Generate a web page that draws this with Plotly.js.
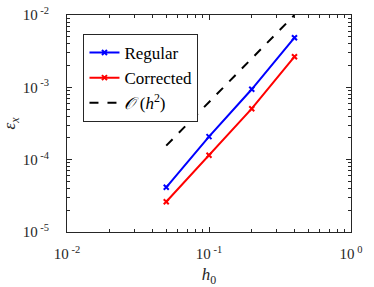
<!DOCTYPE html>
<html><head><meta charset="utf-8">
<script src="https://cdn.plot.ly/plotly-3.0.1.min.js"></script>
<style>html,body{margin:0;padding:0;background:#fff;font-family:'Liberation Serif',serif;}#plot{width:374px;height:287px;}
#plot text{font-family:'Liberation Serif',serif !important;}</style>
</head><body><div id="plot"></div>
<script>
const h0 = [0.05, 0.1, 0.2, 0.4];
const regular = [4.15e-5, 2.08e-4, 9.4e-4, 4.86e-3];
const corrected = [2.62e-5, 1.15e-4, 5.07e-4, 2.65e-3];
const refOrder = [1.5625e-4, 6.25e-4, 2.5e-3, 1.0e-2];
const xTickVals = [0.01, 0.1, 1];
const xTickText = ["10<sup> -2</sup>", "10<sup> -1</sup>", "10<sup> 0</sup>"];
const yTickVals = [1e-5, 1e-4, 1e-3, 1e-2];
const yTickText = ["10<sup> -5</sup>", "10<sup> -4</sup>", "10<sup> -3</sup>", "10<sup> -2</sup>"];

const SERIF = "Liberation Serif";
const traces = [
  {x: h0, y: regular, name: "Regular", mode: "lines+markers", type: "scatter",
   line: {color: "#0000ff", width: 2}, marker: {symbol: "x-thin", size: 5, line: {color: "#0000ff", width: 2}}},
  {x: h0, y: corrected, name: "Corrected", mode: "lines+markers", type: "scatter",
   line: {color: "#ff0000", width: 2}, marker: {symbol: "x-thin", size: 5, line: {color: "#ff0000", width: 2}}},
  {x: h0, y: refOrder, name: "<i>𝒪</i> (<i>h</i><sup>2</sup>)", mode: "lines", type: "scatter",
   line: {color: "#000000", width: 2, dash: "dash"}}
];
const axisCommon = {
  type: "log", showgrid: false, zeroline: false, showline: true, linecolor: "#262626", linewidth: 1,
  mirror: "ticks", ticks: "inside", ticklen: 5, tickcolor: "#262626", tickwidth: 1,
  tickmode: "array",
  minor: {ticks: "inside", ticklen: 3, tickcolor: "#262626", dtick: "D1", showgrid: false}
};
const pw = 374 - 66.5 - 23, ph = 287 - 15 - 55;
const layout = {
  width: 374, height: 287,
  margin: {l: 66.5, r: 23, t: 15, b: 55},
  paper_bgcolor: "#fff", plot_bgcolor: "#fff",
  font: {family: SERIF, size: 15, color: "#262626"},
  showlegend: true,
  legend: {x: (83 - 66.5) / pw, y: 1 - (34 - 15) / ph, xanchor: "left", yanchor: "top",
           bgcolor: "#fff", bordercolor: "#262626", borderwidth: 1,
           font: {family: SERIF, size: 17, color: "#000"}, tracegroupgap: 0},
  xaxis: Object.assign({}, axisCommon, {range: [-2, 0], tickvals: xTickVals, ticktext: xTickText,
           tickfont: {family: SERIF, size: 15, color: "#262626"},
           ticklabelstandoff: 8,
           title: {text: "<i>h</i><sub>0</sub>", font: {family: SERIF, size: 17, color: "#262626"}, standoff: 8}}),
  yaxis: Object.assign({}, axisCommon, {range: [-5, -2], tickvals: yTickVals, ticktext: yTickText,
           tickfont: {family: SERIF, size: 15, color: "#262626"},
           ticklabelstandoff: 14,
           title: {text: "<i>ε</i><sub><i>x</i></sub>", font: {family: SERIF, size: 17, color: "#262626"}, standoff: 6}})
};
// warm up the serif font without adding page text
(function () {
  try {
    const c = document.createElement("canvas");
    c.width = 200; c.height = 40;
    const ctx = c.getContext("2d");
    ["15px", "italic 15px", "17px", "italic 17px"].forEach(function (f) {
      ctx.font = f + ' "Liberation Serif"';
      ctx.fillText("Regular Corrected 10 h", 0, 20);
      ctx.measureText("Regular Corrected 10 h");
    });
  } catch (e) {}
})();
function draw() {
  Plotly.newPlot("plot", traces, layout, {displayModeBar: false}).then(function () {
    setTimeout(function () { Plotly.redraw("plot"); }, 50);
  });
}
const ready = (document.fonts && document.fonts.load)
  ? Promise.all([
      document.fonts.load('15px "Liberation Serif"'),
      document.fonts.load('italic 15px "Liberation Serif"')
    ]).then(function () { return document.fonts.ready; })
  : Promise.resolve();
ready.then(function () { setTimeout(draw, 30); }, function () { setTimeout(draw, 30); });
</script></body></html>
